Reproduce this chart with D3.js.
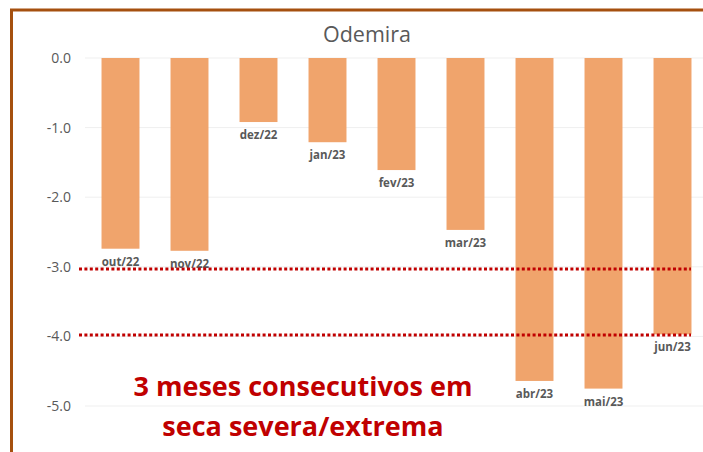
<!DOCTYPE html>
<html>
<head>
<meta charset="utf-8">
<script src="https://cdn.jsdelivr.net/npm/d3@7"></script>
<style>
  body { margin: 0; background: #fff; }
  svg { display: block; font-family: "Open Sans", sans-serif; }
</style>
</head>
<body>
<div id="chart"></div>
<script>
// dados (índice de seca, Odemira)
const meses = ["out/22", "nov/22", "dez/22", "jan/23", "fev/23", "mar/23", "abr/23", "mai/23", "jun/23"];
const valores = [-2.74, -2.77, -0.92, -1.21, -1.61, -2.47, -4.64, -4.75, -3.97];
const ticks = [0, -1, -2, -3, -4, -5];
const limiares = [-3.03, -3.98]; // seca severa / extrema
const nota = ["3 meses consecutivos em", "seca severa/extrema"];

const width = 703, height = 452;

const svg = d3.select("#chart").append("svg")
  .attr("width", width)
  .attr("height", height);

// moldura castanha (só topo e esquerda visíveis)
svg.append("path")
  .attr("d", `M11.5,${height} V10 H${width}`)
  .attr("fill", "none")
  .attr("stroke", "#a5500f")
  .attr("stroke-width", 3);

const x = d3.scaleBand()
  .domain(meses)
  .range([86, 707])
  .paddingInner(0.45)
  .paddingOuter(0.225);

const y = d3.scaleLinear()
  .domain([-5, 0])
  .range([406, 58]);

// linhas de grelha
svg.append("g")
  .selectAll("line")
  .data(ticks)
  .join("line")
  .attr("x1", 85).attr("x2", width)
  .attr("y1", d => y(d)).attr("y2", d => y(d))
  .attr("stroke", "#efefef")
  .attr("stroke-width", 1);

// eixo y (hífen em vez do sinal de menos)
const fmt = d3.format(".1f");
const eixo = svg.append("g")
  .attr("transform", "translate(71,0)")
  .call(d3.axisLeft(y).tickValues(ticks).tickFormat(d => fmt(d).replace("\u2212", "-")).tickSize(0).tickPadding(0));
eixo.select(".domain").remove();
eixo.selectAll("text")
  .attr("fill", "#595959")
  .style("font-family", "'Open Sans', sans-serif")
  .style("font-size", "14px");

// barras
svg.append("g")
  .selectAll("rect")
  .data(valores)
  .join("rect")
  .attr("x", (d, i) => x(meses[i]))
  .attr("width", x.bandwidth())
  .attr("y", y(0))
  .attr("height", d => y(d) - y(0))
  .attr("fill", "#f0a46c");

// rótulos das barras
svg.append("g")
  .selectAll("text")
  .data(valores)
  .join("text")
  .attr("x", (d, i) => x(meses[i]) + x.bandwidth() / 2)
  .attr("y", d => y(d) + 17)
  .attr("text-anchor", "middle")
  .attr("fill", "#595959")
  .style("font-weight", "bold")
  .style("font-size", "11.5px")
  .text((d, i) => meses[i]);

// título
svg.append("text")
  .attr("x", 367)
  .attr("y", 42)
  .attr("text-anchor", "middle")
  .attr("fill", "#595959")
  .style("font-size", "21.5px")
  .text("Odemira");

// linhas pontilhadas dos limiares
svg.append("g")
  .selectAll("line")
  .data(limiares)
  .join("line")
  .attr("x1", 79).attr("x2", 691)
  .attr("y1", d => y(d)).attr("y2", d => y(d))
  .attr("stroke", "#c00000")
  .attr("stroke-width", 3)
  .attr("stroke-dasharray", "3,2.4");

// nota
svg.append("g")
  .selectAll("text")
  .data(nota)
  .join("text")
  .attr("x", 303)
  .attr("y", (d, i) => 396 + i * 40)
  .attr("text-anchor", "middle")
  .attr("fill", "#c00000")
  .style("font-weight", "bold")
  .style("font-size", "27px")
  .text(d => d);
</script>
</body>
</html>
